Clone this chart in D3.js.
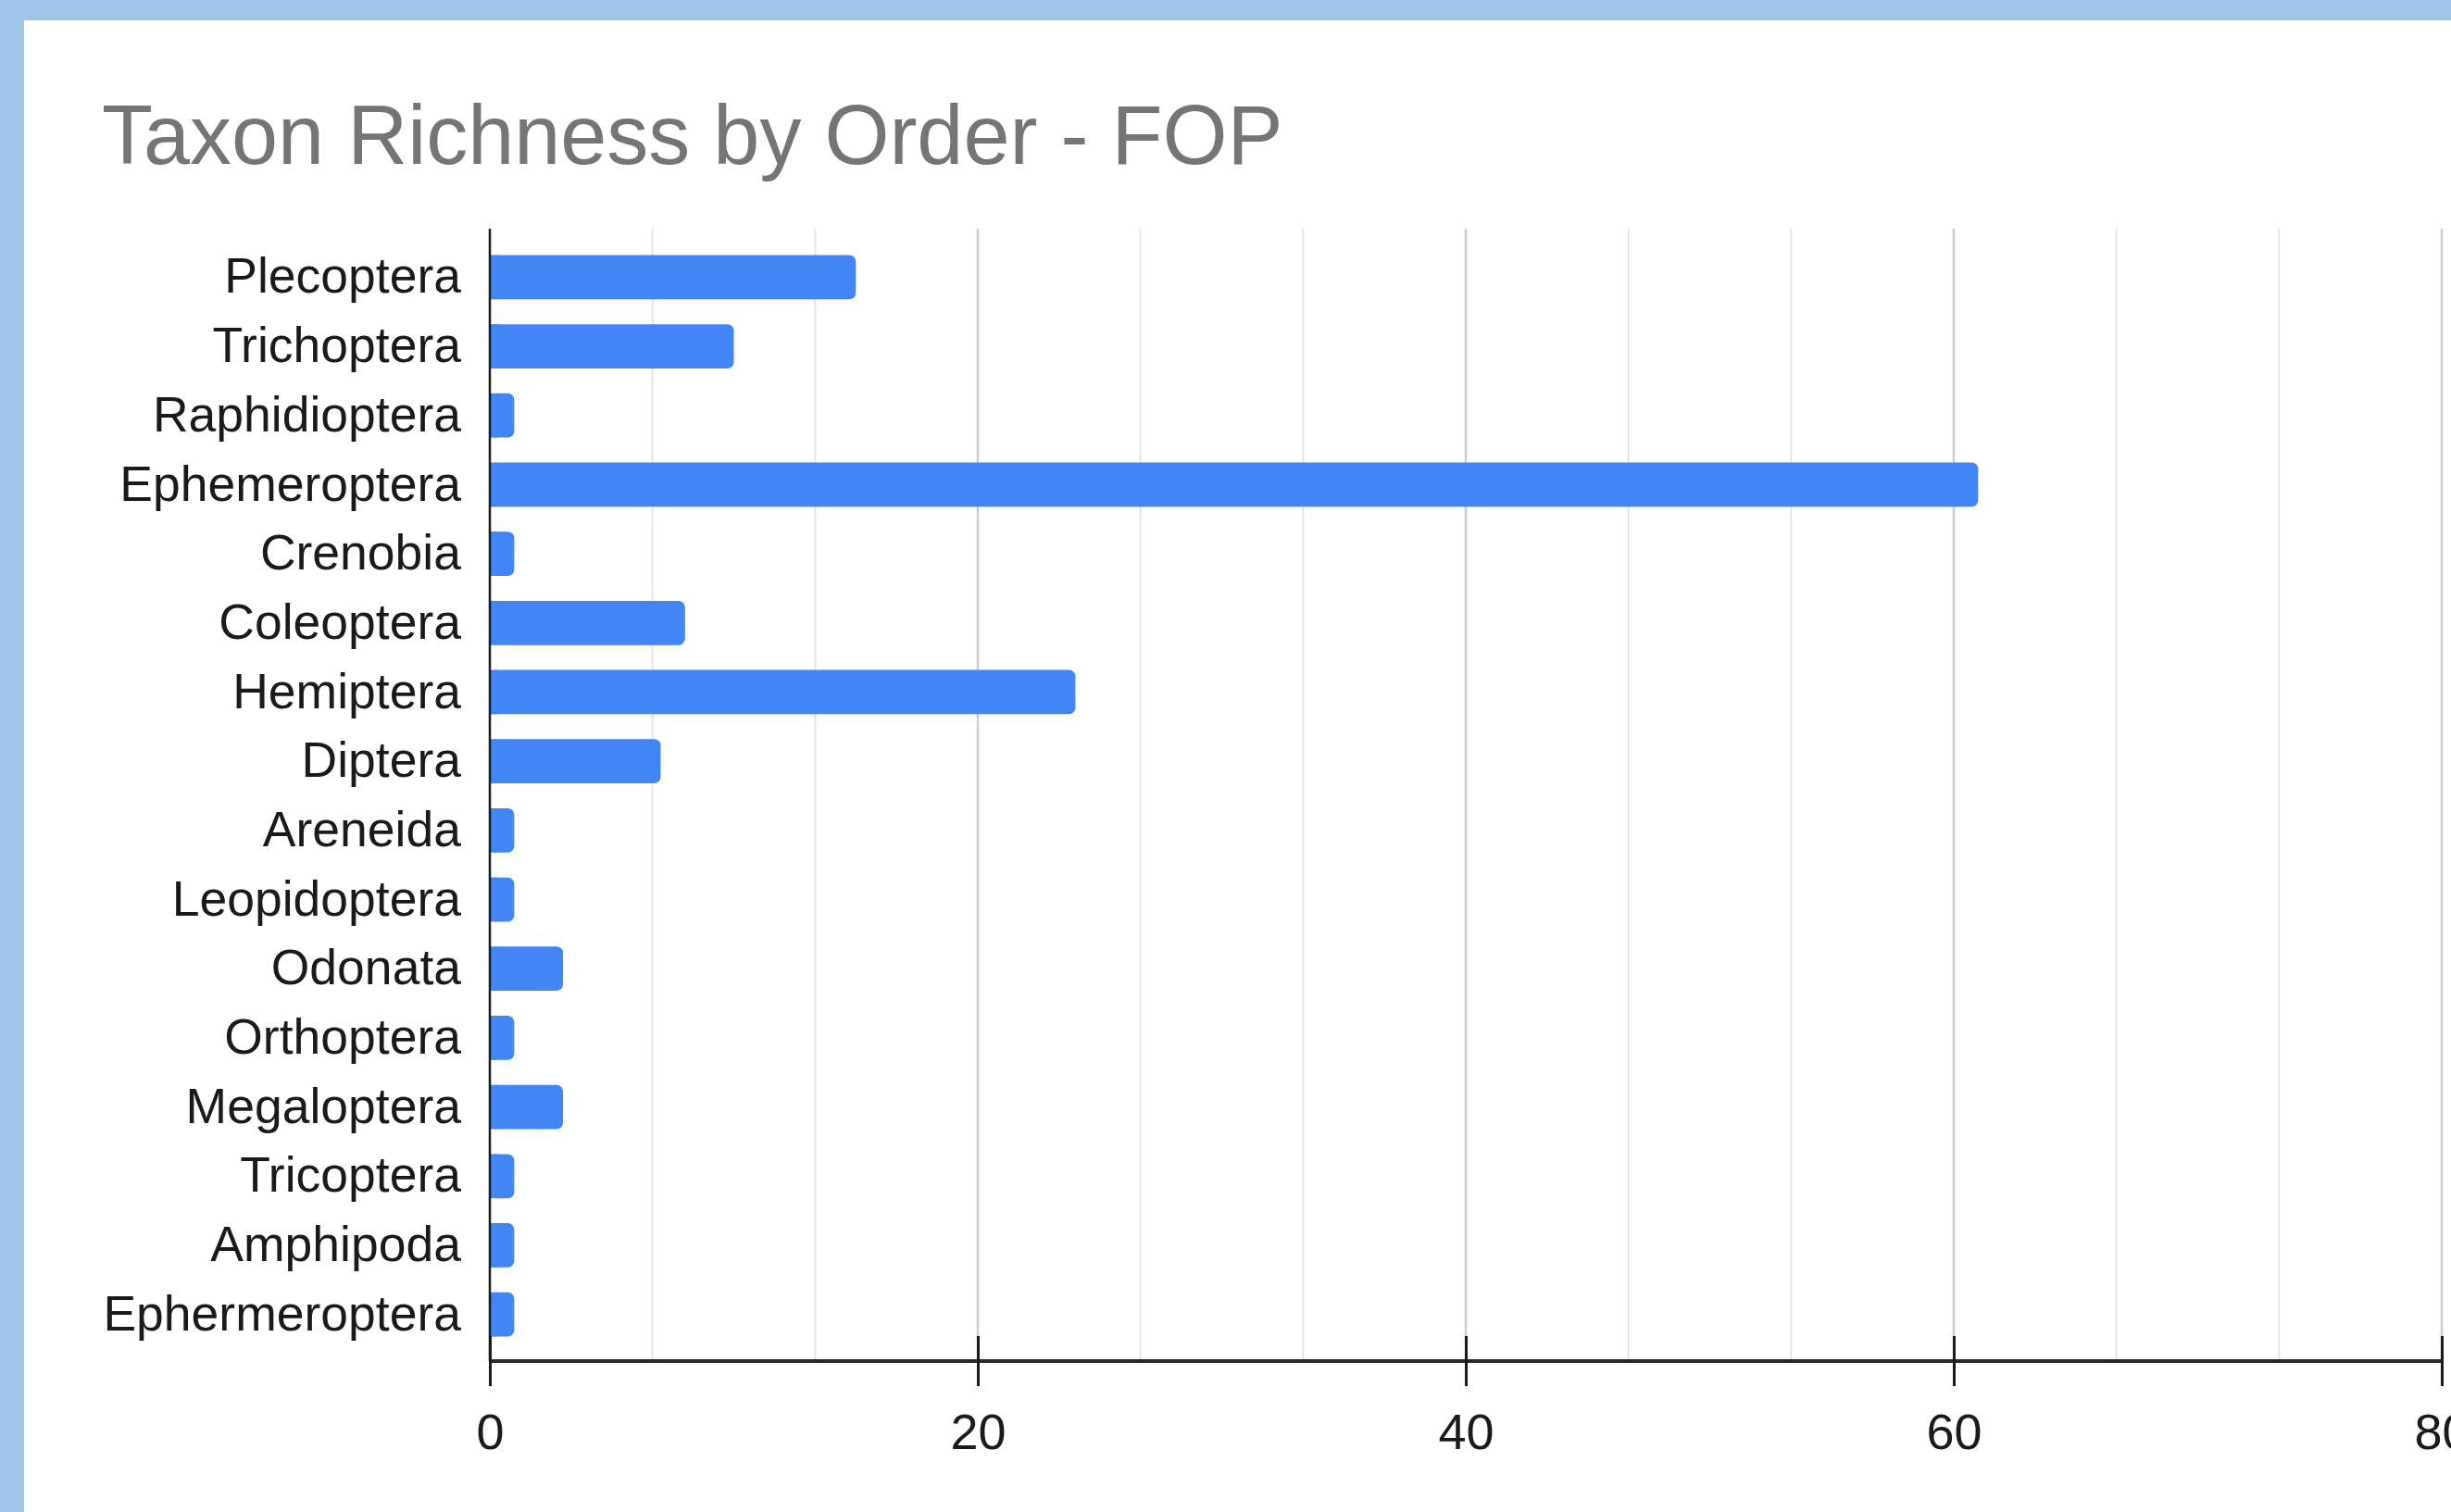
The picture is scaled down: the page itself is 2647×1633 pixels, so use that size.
<!DOCTYPE html>
<html>
<head>
<meta charset="utf-8">
<script src="https://cdn.jsdelivr.net/npm/d3@7"></script>
<style>
  html, body { margin: 0; padding: 0; background: #9fc5e8; }
  #chart { position: absolute; left: 26px; top: 22px; }
</style>
</head>
<body>
<div id="chart"></div>
<script>
(function(){
  'use strict';

  var orders = ['Plecoptera','Trichoptera','Raphidioptera','Ephemeroptera','Crenobia',
                'Coleoptera','Hemiptera','Diptera','Areneida','Leopidoptera','Odonata',
                'Orthoptera','Megaloptera','Tricoptera','Amphipoda','Ephermeroptera'];
  var richness = [15, 10, 1, 61, 1, 8, 24, 7, 1, 1, 3, 1, 3, 1, 1, 1];
  var xTicks = [0, 20, 40, 60, 80];
  var title = 'Taxon Richness by Order - FOP';

  var ox = 26, oy = 22,
      w = 2647 - ox,
      h = 1633 - oy,
      font = '"Liberation Sans", Arial, Helvetica, sans-serif';

  var svg = d3.select('#chart').append('svg')
      .attr('width', w)
      .attr('height', h)
      .style('background', '#fff')
      .style('display', 'block');

  // everything positioned in page coords
  var g = svg.append('g').attr('transform', 'translate(' + (-ox) + ',' + (-oy) + ')');

  var x = d3.scaleLinear()
      .domain([0, 80])
      .range([529, 2637]);

  var y = d3.scaleBand()
      .domain(orders)
      .range([262, 1457])
      .paddingInner(0.36)
      .paddingOuter(0.18);

  var gridTop = 247, axisY = 1470;

  // minor gridlines every 20/3
  var minor = d3.range(1, 12).map(function(i){ return i * 20 / 3; })
      .filter(function(v){ return Math.abs(v % 20) > 0.01 && Math.abs(v % 20 - 20) > 0.01; });

  g.append('g').selectAll('line.minor')
    .data(minor)
    .enter().append('line')
    .attr('x1', function(d){ return x(d); })
    .attr('x2', function(d){ return x(d); })
    .attr('y1', gridTop)
    .attr('y2', axisY)
    .style('stroke', '#e3e3e3')
    .style('stroke-width', 2);

  g.append('g').selectAll('line.major')
    .data(xTicks.slice(1))
    .enter().append('line')
    .attr('x1', function(d){ return x(d); })
    .attr('x2', function(d){ return x(d); })
    .attr('y1', gridTop)
    .attr('y2', axisY)
    .style('stroke', '#cccccc')
    .style('stroke-width', 2.5);

  // bars
  g.append('g').selectAll('rect')
    .data(richness)
    .enter().append('rect')
    .attr('x', x(0))
    .attr('y', function(d, i){ return y(orders[i]); })
    .attr('width', function(d){ return x(d) - x(0); })
    .attr('height', y.bandwidth())
    .attr('rx', 7)
    .style('fill', '#4285f4');
  // square off left side of bars
  g.append('g').selectAll('rect')
    .data(richness)
    .enter().append('rect')
    .attr('x', x(0))
    .attr('y', function(d, i){ return y(orders[i]); })
    .attr('width', function(d){ return Math.min(8, x(d) - x(0)); })
    .attr('height', y.bandwidth())
    .style('fill', '#4285f4');

  // y axis
  var yAxis = d3.axisLeft(y).tickSize(0).tickPadding(31);
  var yg = g.append('g')
    .attr('transform', 'translate(' + x(0) + ',0)')
    .call(yAxis);
  yg.select('.domain').remove();
  yg.selectAll('text')
    .style('font-family', font)
    .style('font-size', '53.5px')
    .style('fill', '#1a1a1a');

  g.append('line')
    .attr('x1', x(0)).attr('x2', x(0))
    .attr('y1', gridTop).attr('y2', axisY)
    .style('stroke', '#1a1a1a')
    .style('stroke-width', 2.5);

  // x axis
  var xAxis = d3.axisBottom(x).tickValues(xTicks).tickSize(27).tickPadding(30);
  var xg = g.append('g')
    .attr('transform', 'translate(0,' + axisY + ')')
    .call(xAxis);
  xg.select('.domain')
    .attr('d', 'M' + x(0) + ',0H' + x(80))
    .style('stroke', '#2a2a2a')
    .style('stroke-width', 4);
  xg.selectAll('.tick line')
    .attr('y1', -27)
    .style('stroke', '#1a1a1a')
    .style('stroke-width', 3);
  xg.selectAll('text')
    .style('font-family', font)
    .style('font-size', '54px')
    .style('fill', '#1a1a1a');

  // title
  g.append('text')
    .attr('x', 110)
    .attr('y', 177)
    .text(title)
    .style('font-family', font)
    .style('font-size', '90px')
    .style('fill', '#757575');

}());
</script>
</body>
</html>
